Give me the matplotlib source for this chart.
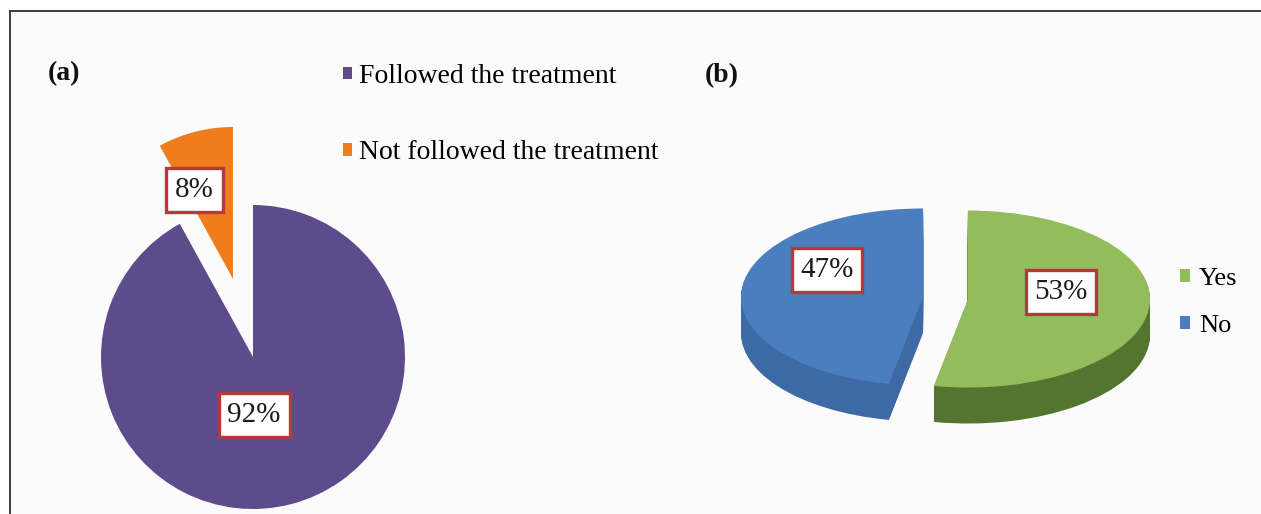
import matplotlib
matplotlib.use("Agg")
import matplotlib.pyplot as plt
from matplotlib.lines import Line2D
from matplotlib.patches import Rectangle

# Panel (a): adherence to the treatment
adherence_labels = ["Followed the treatment", "Not followed the treatment"]
adherence_pct = [92, 8]
adherence_colors = ["#5e4b8b", "#ef7d1c"]

# Panel (b): yes / no answers
answer_labels = ["Yes", "No"]
answer_pct = [53, 47]
answer_colors = ["#93bd5d", "#4a7ebf"]
answer_side_colors = ["#537530", "#3d6aa5"]

panel_titles = ["(a)", "(b)"]

W, H, DPI = 1261, 514, 100
plt.rcParams['font.family'] = 'serif'
plt.rcParams['font.serif'] = ['Liberation Serif', 'DejaVu Serif']

fig = plt.figure(figsize=(W / DPI, H / DPI), dpi=DPI, facecolor='white')


def px_axes(x0, y0, x1, y1):
    """Axes placed by a pixel box measured from the top-left corner."""
    ax = fig.add_axes([x0 / W, 1 - y1 / H, (x1 - x0) / W, (y1 - y0) / H])
    ax.set_facecolor('none')
    return ax


# light panel background with a frame on the top and left sides
fig.patches.append(Rectangle((10 / W, 0), 1 - 10 / W, 1 - 11 / H,
                             transform=fig.transFigure, facecolor='#fbfbfb',
                             edgecolor='none', zorder=-10))
fig.lines.append(Line2D([10 / W, 10 / W], [0, 1 - 11 / H], transform=fig.transFigure,
                        color='#3a3a3a', linewidth=1.4))
fig.lines.append(Line2D([10 / W, 1], [1 - 11 / H, 1 - 11 / H], transform=fig.transFigure,
                        color='#3a3a3a', linewidth=1.4))


def value_box(ax, x, y, value, size):
    ax.text(x, y, f"{value}%", ha='center', va='center', fontsize=size, color='#1c1c1c',
            zorder=10,
            bbox=dict(boxstyle='square,pad=0.3', facecolor='white',
                      edgecolor='#b23a3a', linewidth=2.4))


# ---------------- panel (a): flat pie with exploded slice ----------------
acx, acy, ar = 253, 357, 152
box_a = (40, 90, 460, 514)
axA = px_axes(*box_a)
wedges_a, _ = axA.pie(adherence_pct, colors=adherence_colors, startangle=90,
                      counterclock=False, explode=[0, 0.53],
                      wedgeprops=dict(linewidth=0))
axA.set_aspect('auto')
axA.set_xlim((box_a[0] - acx) / ar, (box_a[2] - acx) / ar)
axA.set_ylim((acy - box_a[3]) / ar, (acy - box_a[1]) / ar)

value_box(axA, 0.007, -0.38, adherence_pct[0], 21)
value_box(axA, -0.385, 1.10, adherence_pct[1], 21)

fig.legend(wedges_a, adherence_labels, loc='upper left',
           bbox_to_anchor=(343 / W, 1 - 64 / H), frameon=False, fontsize=20,
           handlelength=0.33, handleheight=0.33, handletextpad=0.25,
           labelspacing=1.85, borderaxespad=0, borderpad=0)

# ---------------- panel (b): tilted pie with depth ----------------
bcx, bcy, brx, bry = 945.5, 298, 182, 88.5
depth = 36
box_b = (690, 170, 1175, 460)
axB = px_axes(*box_b)
explode_b = [0.124, 0.124]
for k in range(depth, 0, -1):
    axB.pie(answer_pct, colors=answer_side_colors, startangle=90, counterclock=False,
            explode=explode_b, center=(0, -k / bry), wedgeprops=dict(linewidth=0))
wedges_b, _ = axB.pie(answer_pct, colors=answer_colors, startangle=90,
                      counterclock=False, explode=explode_b,
                      wedgeprops=dict(linewidth=0))
axB.set_aspect('auto')
axB.set_xlim((box_b[0] - bcx) / brx, (box_b[2] - bcx) / brx)
axB.set_ylim((bcy - box_b[3]) / bry, (bcy - box_b[1]) / bry)

value_box(axB, (1061 - bcx) / brx, (bcy - 292) / bry, answer_pct[0], 21)
value_box(axB, (827 - bcx) / brx, (bcy - 270) / bry, answer_pct[1], 21)

fig.legend(wedges_b, answer_labels, loc='upper left',
           bbox_to_anchor=(1180 / W, 1 - 268 / H), frameon=False, fontsize=19,
           handlelength=0.38, handleheight=0.38, handletextpad=0.35,
           labelspacing=0.95, borderaxespad=0, borderpad=0)

# panel tags
fig.text(64 / W, 1 - 74 / H, panel_titles[0], fontsize=20, fontweight='bold',
         ha='center', va='center', color='#111111')
fig.text(722 / W, 1 - 76 / H, panel_titles[1], fontsize=20, fontweight='bold',
         ha='center', va='center', color='#111111')

fig.savefig("out.png", dpi=DPI, facecolor=fig.get_facecolor())
